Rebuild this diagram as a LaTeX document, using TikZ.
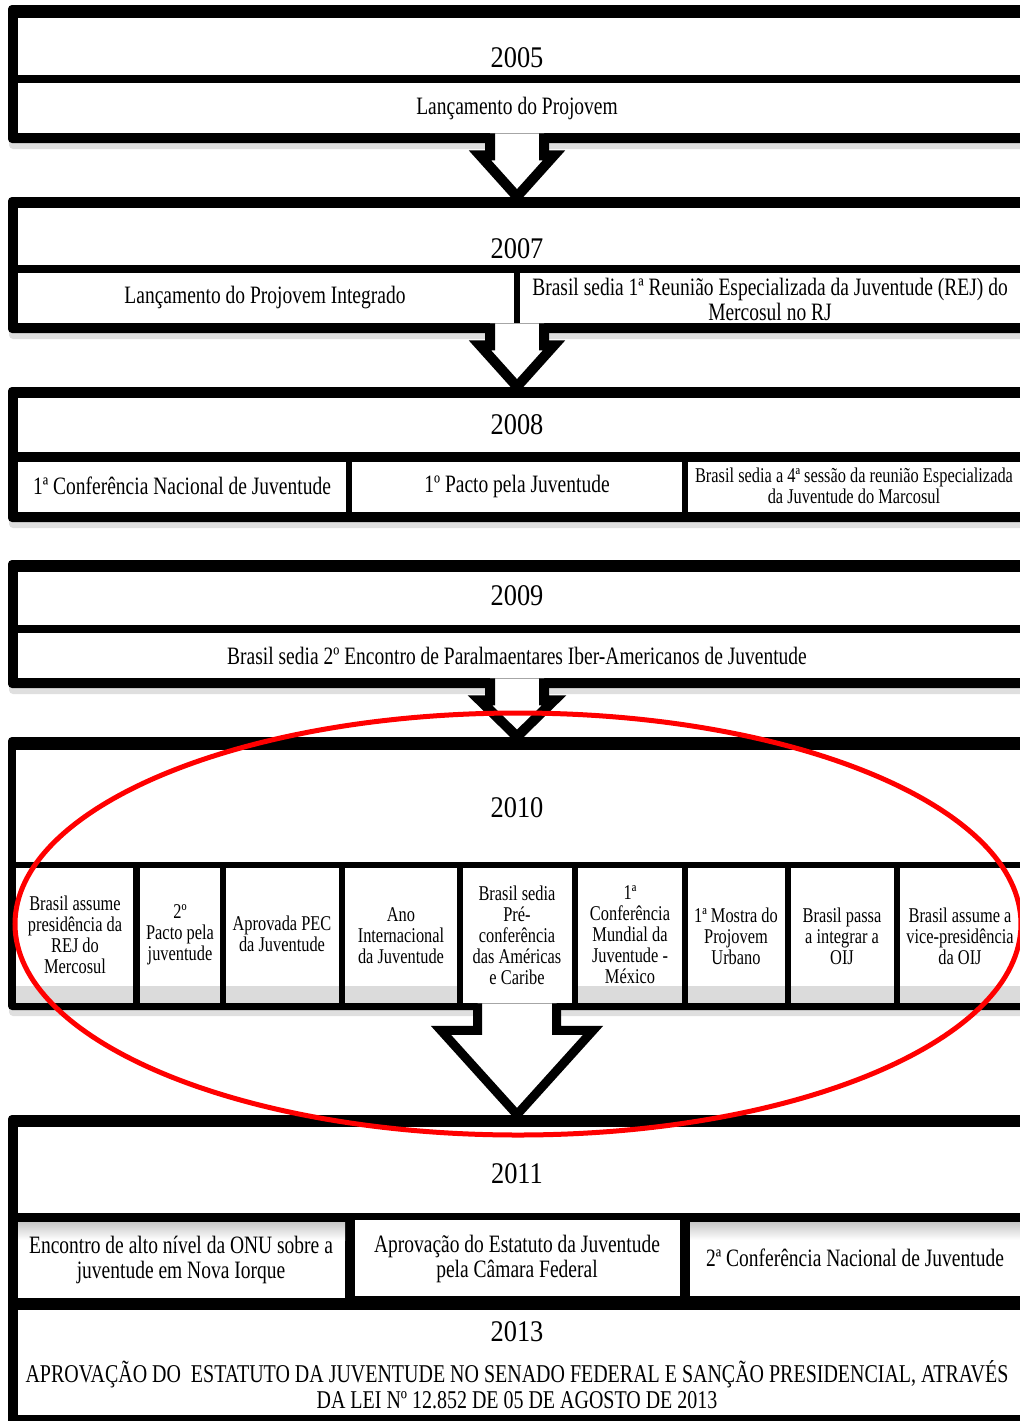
\documentclass[tikz,border=0pt]{standalone}
\usepackage{fontspec}
\setmainfont{Liberation Serif}[FakeStretch=0.78]
\newfontfamily\yearfont{Liberation Serif}[FakeStretch=0.88]
\usetikzlibrary{calc,fit,shadows}

\tikzset{
  frame/.style={fill=black, rounded corners=2pt, inner sep=0pt,
    drop shadow={shadow xshift=0.5pt, shadow yshift=-3pt, opacity=0.25}},
  yr/.style={inner sep=0pt, font=\yearfont\fontsize{15}{17}\selectfont},
  txt/.style={inner sep=0pt, align=center, font=\fontsize{12.5}{12.5}\selectfont},
  mid/.style={inner sep=0pt, align=center, font=\fontsize{10.5}{10.5}\selectfont},
  sml/.style={inner sep=0pt, align=center, font=\fontsize{10.5}{10.5}\selectfont},
  band/.style={fill=black!14},
  smallarrow/.style={draw=black, fill=white, line width=5pt, line join=miter},
  bigarrow/.style={draw=black, fill=white, line width=4.5pt, line join=miter},
  highlight/.style={draw=red, line width=2.5pt},
}

\begin{document}
\begin{tikzpicture}[x=0.5pt,y=-0.5pt]
    \clip (0,0) rectangle (1020,1421);

    % 2005
    \node[frame, fit={(8,5) (1035,143)}] (f2005) {};
    \fill[white] (18,18) rectangle (1030,75);
    \fill[white] (18,83) rectangle (1030,133);
    \node[yr] (y2005) at (517,58) {2005};
    \node[txt] (t2005) at (517,108) {Lançamento do Projovem};

    % 2007
    \node[frame, fit={(8,197) (1035,333)}] (f2007) {};
    \fill[white] (18,208) rectangle (1030,265);
    \fill[white] (18,273) rectangle (514,323);
    \fill[white] (520,273) rectangle (1030,323);
    \node[yr] (y2007) at (517,249) {2007};
    \node[txt] (a2007) at (265,298) {Lançamento do Projovem Integrado};
    \node[txt] (b2007) at (770,299) {Brasil sedia 1ª Reunião Especializada da Juventude (REJ) do\\Mercosul no RJ};

    % 2008
    \node[frame, fit={(8,387) (1035,522)}] (f2008) {};
    \fill[white] (18,398) rectangle (1030,452);
    \fill[white] (18,462) rectangle (346,512);
    \fill[white] (352,462) rectangle (682,512);
    \fill[white] (688,462) rectangle (1030,512);
    \node[yr] (y2008) at (517,425) {2008};
    \node[txt] (a2008) at (182,486) {1ª Conferência Nacional de Juventude};
    \node[txt] (b2008) at (517,486) {1º Pacto pela Juventude};
    \node[mid] (c2008) at (854,486) {Brasil sedia a 4ª sessão da reunião Especializada\\da Juventude do Marcosul};

    % 2009
    \node[frame, fit={(8,560) (1035,688)}] (f2009) {};
    \fill[white] (18,572) rectangle (1030,625);
    \fill[white] (18,633) rectangle (1030,678);
    \node[yr] (y2009) at (517,596) {2009};
    \node[txt] (t2009) at (517,656) {Brasil sedia 2º Encontro de Paralmaentares Iber-Americanos de Juventude};

    % 2010
    \node[frame, fit={(8,737) (1035,1010)}] (f2010) {};
    \fill[white] (16,750) rectangle (1030,862);
    \fill[white] (16,868) rectangle (133,1003);
    \fill[white] (140,868) rectangle (220,1003);
    \fill[white] (226,868) rectangle (339,1003);
    \fill[white] (345,868) rectangle (457,1003);
    \fill[white] (463,868) rectangle (572,1003);
    \fill[white] (578,868) rectangle (682,1003);
    \fill[white] (688,868) rectangle (785,1003);
    \fill[white] (791,868) rectangle (894,1003);
    \fill[white] (900,868) rectangle (1030,1003);
    \fill[band] (16,986) rectangle (133,1003);
    \fill[band] (140,986) rectangle (220,1003);
    \fill[band] (226,986) rectangle (339,1003);
    \fill[band] (345,986) rectangle (457,1003);
    \fill[band] (578,986) rectangle (682,1003);
    \fill[band] (688,986) rectangle (785,1003);
    \fill[band] (791,986) rectangle (894,1003);
    \fill[band] (900,986) rectangle (1030,1003);
    \node[yr] (y2010) at (517,808) {2010};
    \node[sml] (a2010) at (75,935) {Brasil assume\\presidência da\\REJ do\\Mercosul};
    \node[sml] (b2010) at (180,935) {2º\\Pacto pela\\juventude};
    \node[sml] (c2010) at (282,934) {Aprovada PEC\\da Juventude};
    \node[sml] (d2010) at (401,936) {Ano\\Internacional\\da Juventude};
    \node[sml] (e2010) at (517,935) {Brasil sedia\\Pré-\\conferência\\das Américas\\e Caribe};
    \node[sml] (f2010t) at (630,935) {1ª\\Conferência\\Mundial da\\Juventude -\\México};
    \node[sml] (g2010) at (736,936) {1ª Mostra do\\Projovem\\Urbano};
    \node[sml] (h2010) at (842,936) {Brasil passa\\a integrar a\\OIJ};
    \node[sml] (i2010) at (960,936) {Brasil assume a\\vice-presidência\\da OIJ};

    % 2011
    \node[frame, fit={(8,1115) (1035,1310)}] (f2011) {};
    \fill[white] (18,1127) rectangle (1030,1213);
    \fill[white] (18,1222) rectangle (345,1298);
    \fill[white] (355,1220) rectangle (680,1296);
    \fill[white] (690,1222) rectangle (1030,1296);
    \shade[top color=black!22, bottom color=white] (18,1222) rectangle (345,1240);
    \shade[top color=black!22, bottom color=white] (690,1222) rectangle (1030,1240);
    \node[yr] (y2011) at (517,1174) {2011};
    \node[txt] (a2011) at (181,1260) {Encontro de alto nível da ONU sobre a\\juventude em Nova Iorque};
    \node[txt] (b2011) at (517,1259) {Aprovação do Estatuto da Juventude\\pela Câmara Federal};
    \node[txt] (c2011) at (855,1258) {2ª Conferência Nacional de Juventude};

    % 2013
    \node[frame, fit={(8,1300) (1035,1430)}] (f2013) {};
    \fill[white] (18,1310) rectangle (1030,1415);
    \node[yr] (y2013) at (517,1332) {2013};
    \node[txt, font=\fontsize{12.8}{13}\selectfont] (t2013) at (517,1385) {APROVAÇÃO DO~ ESTATUTO DA JUVENTUDE NO SENADO FEDERAL E SANÇÃO PRESIDENCIAL, ATRAVÉS\\DA LEI Nº 12.852 DE 05 DE AGOSTO DE 2013};

    % arrows
    \draw[smallarrow] ($(f2005.south -| y2005)+(-13.5pt,5pt)$) -- ++(0,-11pt) -- ++(-5pt,0)
        -- (f2007.north -| y2005) -- ($(f2005.south -| y2005)+(18.5pt,-6pt)$) -- ++(-5pt,0) -- ++(0,11pt);
    \draw[smallarrow] ($(f2007.south -| y2007)+(-13.5pt,5pt)$) -- ++(0,-11pt) -- ++(-5pt,0)
        -- (f2008.north -| y2007) -- ($(f2007.south -| y2007)+(18.5pt,-6pt)$) -- ++(-5pt,0) -- ++(0,11pt);
    \draw[smallarrow] ($(f2009.south -| y2009)+(-13.5pt,5pt)$) -- ++(0,-11pt) -- ++(-5pt,0)
        -- (f2010.north -| y2009) -- ($(f2009.south -| y2009)+(18.5pt,-6pt)$) -- ++(-5pt,0) -- ++(0,11pt);
    \draw[bigarrow] ($(f2010.south -| y2010)+(-19.75pt,3.5pt)$) -- ++(0,-13.5pt) -- ++(-18.25pt,0)
        -- (f2011.north -| y2010) -- ($(f2010.south -| y2010)+(38pt,-10pt)$) -- ++(-18.25pt,0) -- ++(0,13.5pt);

    % highlight
    \coordinate (hl) at (518,924);
    \draw[highlight] (hl) ellipse [x radius=251.5pt, y radius=105.5pt];
\end{tikzpicture}
\end{document}
